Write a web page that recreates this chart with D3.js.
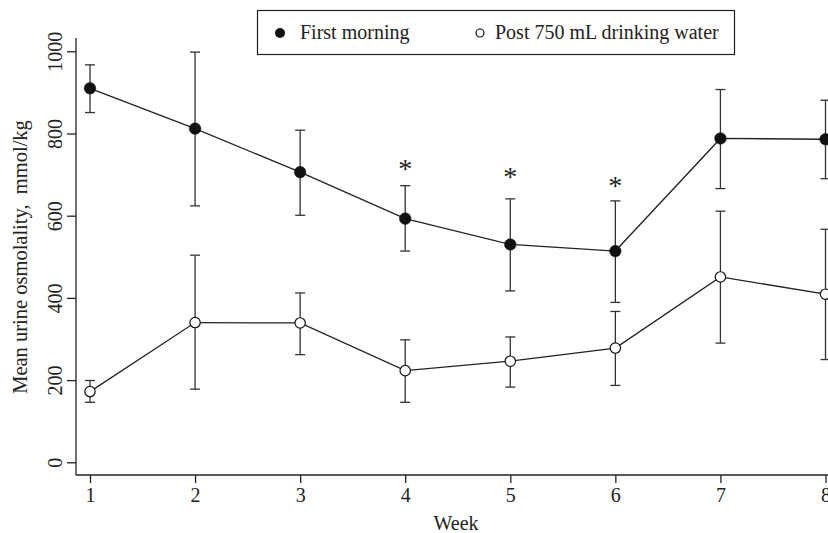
<!DOCTYPE html>
<html>
<head>
<meta charset="utf-8">
<script src="https://cdn.jsdelivr.net/npm/d3@7"></script>
<style>
  html, body { margin: 0; padding: 0; background: #fff; }
  svg { display: block; }
  svg text { font-family: "Liberation Serif", "Times New Roman", serif !important; fill: #222; }
</style>
</head>
<body>
<svg id="chart" width="828" height="533"></svg>
<script>
// ---- data ----
const weeks = [1, 2, 3, 4, 5, 6, 7, 8];
const morningMean  = [910, 812, 706, 593, 530, 514, 788, 786];
const morningUpper = [967, 998, 808, 673, 641, 636, 907, 881];
const morningLower = [851, 624, 601, 514, 417, 389, 666, 690];
const waterMean  = [172, 340, 339, 223, 246, 278, 451, 409];
const waterUpper = [199, 504, 412, 298, 305, 367, 611, 567];
const waterLower = [146, 178, 262, 146, 183, 187, 290, 250];
const sigWeeks = [4, 5, 6];
const sigLevels = [723, 703, 681];
const yTicks = [0, 200, 400, 600, 800, 1000];
const seriesNames = ["First morning", "Post 750 mL drinking water"];
const xTitle = "Week";
const yTitle = "Mean urine osmolality,  mmol/kg";

// ---- layout ----
const FONT = "'Liberation Serif', 'Times New Roman', serif";
const svg = d3.select("#chart");
const x = d3.scaleLinear().domain([1, 8]).range([90, 825.5]);
const y = d3.scaleLinear().domain([0, 1000]).range([462.3, 51.3]);
const axisX0 = 76, axisY0 = 475;
const ink = "#222";

// axes lines
svg.append("line").attr("x1", axisX0).attr("x2", axisX0).attr("y1", 38).attr("y2", axisY0)
  .attr("stroke", ink).attr("stroke-width", 1.3);
svg.append("line").attr("x1", axisX0).attr("x2", 828).attr("y1", axisY0).attr("y2", axisY0)
  .attr("stroke", ink).attr("stroke-width", 1.3);

// y axis via d3
const yAxis = d3.axisLeft(y).tickValues(yTicks).tickSize(9).tickFormat(d3.format("d"));
const gy = svg.append("g").attr("transform", `translate(${axisX0},0)`).call(yAxis);
gy.attr("font-family", null);
gy.select(".domain").remove();
gy.selectAll(".tick line").attr("stroke", ink).attr("stroke-width", 1.3);
gy.selectAll(".tick text").remove();
gy.selectAll(".tick").append("text")
  .attr("transform", "translate(-14,0) rotate(-90)")
  .attr("text-anchor", "middle")
  .style("font-family", FONT)
  .style("font-size", "20px")
  .attr("fill", ink)
  .text(d => d);

// x axis via d3
const xAxis = d3.axisBottom(x).tickValues(weeks).tickSize(8).tickFormat(d3.format("d"));
const gx = svg.append("g").attr("transform", `translate(0,${axisY0})`).call(xAxis);
gx.attr("font-family", null);
gx.select(".domain").remove();
gx.selectAll(".tick line").attr("stroke", ink).attr("stroke-width", 1.3);
gx.selectAll(".tick text").style("font-size", "20px").style("font-family", FONT)
  .attr("fill", ink).attr("dy", null).attr("y", 27);

// titles
svg.append("text").attr("x", 456).attr("y", 530).attr("text-anchor", "middle")
  .style("font-family", FONT).style("font-size", "20px").text(xTitle);
svg.append("text").attr("transform", "translate(27,257) rotate(-90)")
  .attr("text-anchor", "middle").style("font-family", FONT).style("font-size", "20.5px")
  .style("white-space", "pre").text(yTitle);

// series
function drawSeries(mean, upper, lower, filled) {
  const g = svg.append("g");
  const pts = weeks.map((w, i) => ({w, m: mean[i], u: upper[i], l: lower[i]}));
  g.selectAll("line.eb").data(pts).enter().append("line")
    .attr("x1", d => x(d.w)).attr("x2", d => x(d.w))
    .attr("y1", d => y(d.u)).attr("y2", d => y(d.l))
    .attr("stroke", "#333").attr("stroke-width", 1.3);
  ["u", "l"].forEach(k => {
    g.selectAll("line.cap" + k).data(pts).enter().append("line")
      .attr("x1", d => x(d.w) - 5).attr("x2", d => x(d.w) + 5)
      .attr("y1", d => y(d[k])).attr("y2", d => y(d[k]))
      .attr("stroke", "#333").attr("stroke-width", 1.3);
  });
  g.append("path").datum(pts)
    .attr("d", d3.line().x(d => x(d.w)).y(d => y(d.m)))
    .attr("fill", "none").attr("stroke", ink).attr("stroke-width", 1.3);
  g.selectAll("circle").data(pts).enter().append("circle")
    .attr("cx", d => x(d.w)).attr("cy", d => y(d.m))
    .attr("r", filled ? 5.8 : 5.2)
    .attr("fill", filled ? "#111" : "#fff")
    .attr("stroke", "#111").attr("stroke-width", filled ? 0.5 : 1.2);
}
drawSeries(waterMean, waterUpper, waterLower, false);
drawSeries(morningMean, morningUpper, morningLower, true);

// significance asterisks
svg.selectAll("text.sig").data(sigWeeks).enter().append("text")
  .attr("x", d => x(d)).attr("y", (d, i) => y(sigLevels[i]) + 13)
  .attr("text-anchor", "middle").style("font-family", FONT).style("font-size", "28px")
  .attr("fill", ink).text("*");

// legend
const lg = svg.append("g");
lg.append("rect").attr("x", 257.5).attr("y", 10.5).attr("width", 477).attr("height", 44)
  .attr("fill", "#fff").attr("stroke", ink).attr("stroke-width", 1.2);
lg.append("circle").attr("cx", 280).attr("cy", 33).attr("r", 5).attr("fill", "#111");
lg.append("text").attr("x", 300).attr("y", 38.5).style("font-family", FONT).style("font-size", "20px").text(seriesNames[0]);
lg.append("circle").attr("cx", 480).attr("cy", 33).attr("r", 4).attr("fill", "#fff")
  .attr("stroke", "#111").attr("stroke-width", 1.2);
lg.append("text").attr("x", 495).attr("y", 38.5).style("font-family", FONT).style("font-size", "20px").text(seriesNames[1]);
</script>
</body>
</html>
